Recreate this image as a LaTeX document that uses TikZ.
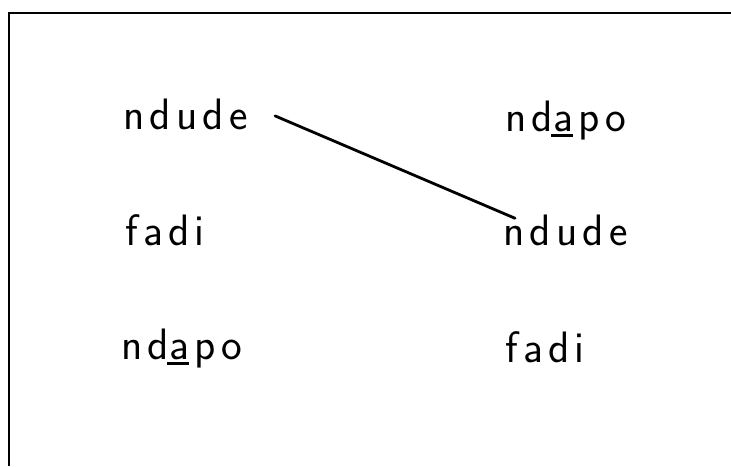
\documentclass[tikz,border=0pt]{standalone}
\usepackage{fontspec}
\usetikzlibrary{positioning}
\newfontfamily\wordface{Latin Modern Sans}[LetterSpace=12]
\newcommand{\wordfont}{\wordface\fontsize{44}{50}\selectfont}
% bar under a single letter
\newcommand{\ubar}[1]{\setbox0\hbox{#1}\rlap{\hspace{-2pt}\rule[-6pt]{\dimexpr\wd0+2pt\relax}{3pt}}\box0\hspace{0.12em}}
\tikzset{
        word/.style={font=\wordfont, inner sep=0pt, anchor=base west},
        link/.style={line width=2.8pt, line cap=round},
        frame/.style={line width=2.6pt}
          }

\begin{document}
\begin{tikzpicture}[x=1pt,y=-1pt]
            \useasboundingbox (0,0) rectangle (731,466);
            \draw[frame] (9,466) -- (9,13) -- (731,13);
            % left column
            \node[word] (ndudeL) at (123,129) {ndude};
            \node[word] (fadiL) at (125,245) {fadi};
            \node[word] (ndapoL) at (121,359) {nd\ubar{a}po};
            % right column
            \node[word] (ndapoR) at (505,131) {nd\ubar{a}po};
            \node[word] (ndudeR) at (503,245) {ndude};
            \node[word] (fadiR) at (505,362) {fadi};
            \draw[link] ([xshift=27pt,yshift=-2pt]ndudeL.east) -- ([xshift=12pt,yshift=-4pt]ndudeR.north west);
          \end{tikzpicture}
\end{document}
